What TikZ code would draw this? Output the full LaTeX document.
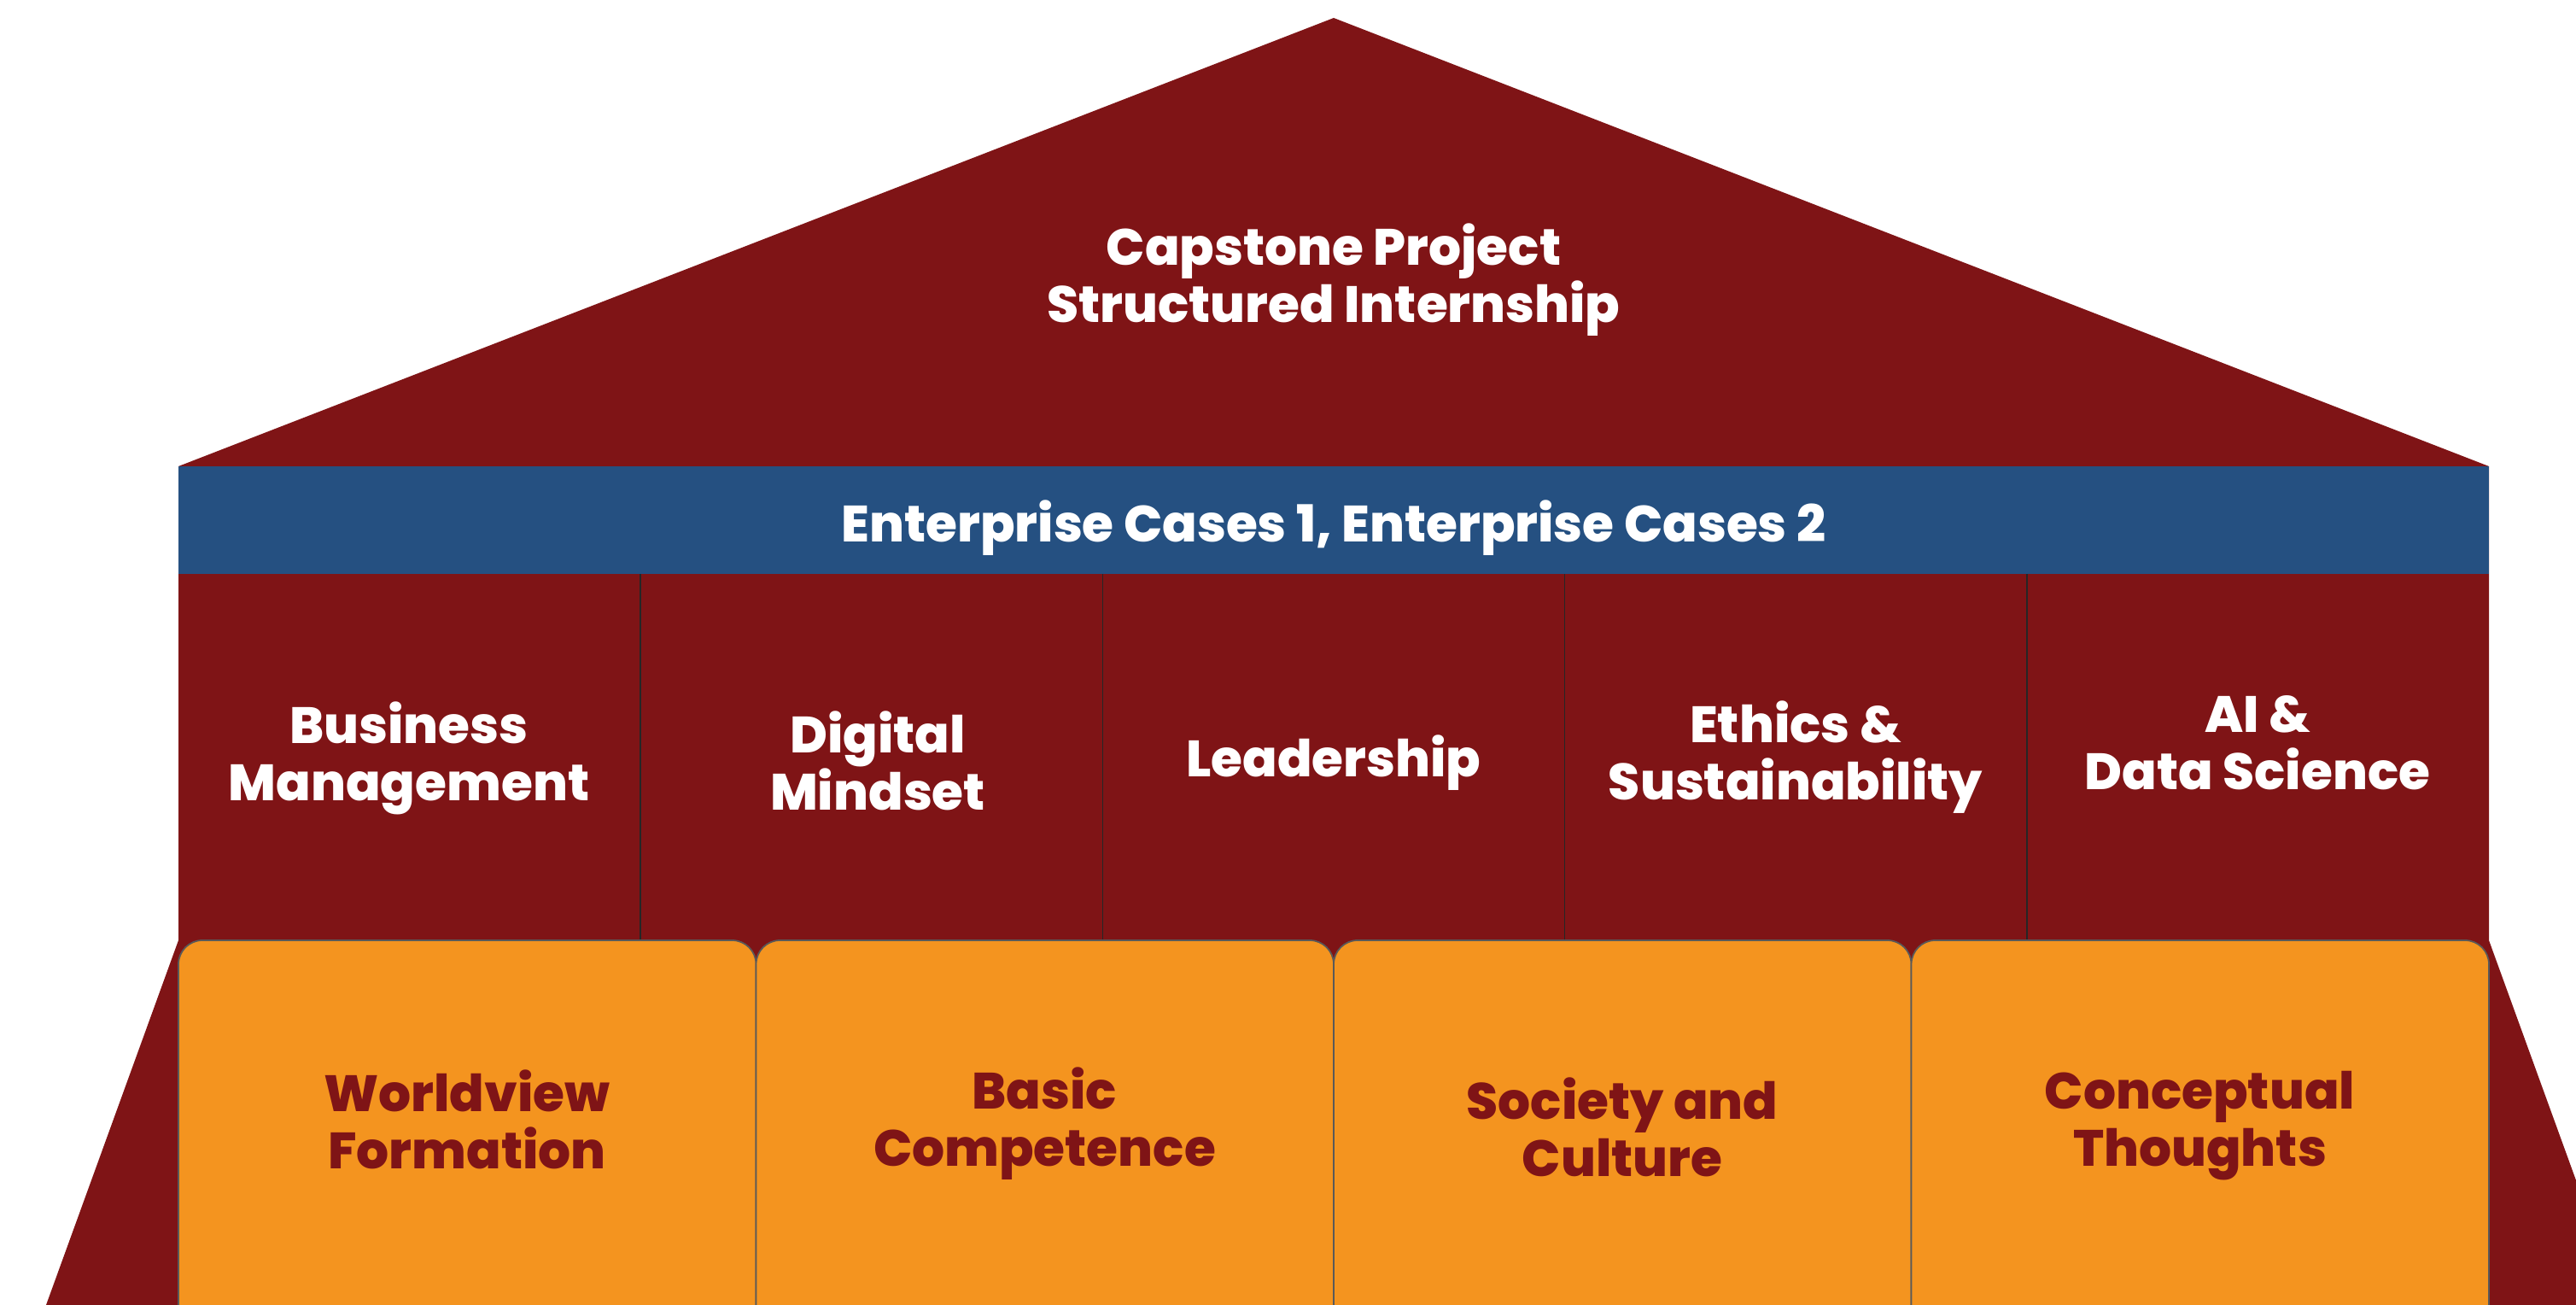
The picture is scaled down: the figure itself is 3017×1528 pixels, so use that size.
\documentclass[tikz,border=0pt]{standalone}
\usepackage{fontspec}
\setmainfont{Poppins}[BoldFont={* ExtraBold}]
\definecolor{roofred}{RGB}{127,20,22}
\definecolor{bandblue}{RGB}{37,80,129}
\definecolor{baseorange}{RGB}{244,148,31}

\begin{document}
\begin{tikzpicture}[x=0.01cm, y=-0.01cm,
  housetxt/.style={font=\bfseries\fontsize{17}{19}\selectfont, align=center, text=white},
  basetxt/.style={housetxt, text=roofred},
  divider/.style={draw=black!85, line width=0.5pt},
  basebox/.style={fill=baseorange, draw=black!65, line width=0.5pt, rounded corners=2.8mm}
]
  \useasboundingbox (0,0) rectangle (3017,1528);
  \clip (0,0) rectangle (3017,1528);

  % house: roof, walls and feet in one piece
  \fill[roofred] (54,1528) -- (209,1101) -- (209,546) -- (1562,21) -- (2915,546)
    -- (2915,1101) -- (3070,1528) -- cycle;

  % blue band under the roof
  \fill[bandblue] (209,546) rectangle (2915,672);

  \node[housetxt] (roof) at (1562,328) {Capstone Project\\Structured Internship};
  \node[housetxt] (band) at (1562,618) {Enterprise Cases 1, Enterprise Cases 2};

  % pillars
  \foreach \i in {1,...,4} {
    \draw[divider] ({209+541.2*\i},672) -- ({209+541.2*\i},1101);
  }
  \foreach \i/\xx/\yy/\txt in {0/479/888/{Business\\Management}, 1/1028/891/{Digital\\Mindset},
      2/1562/893/{Leadership}, 3/2103/887/{Ethics \&\\Sustainability}, 4/2644/870/{AI \&\\Data Science}} {
    \node[housetxt] (col\i) at (\xx,\yy) {\txt};
  }

  % foundation boxes
  \foreach \i/\yy/\txt in {0/1311/{Worldview\\Formation}, 1/1316/{Basic\\Competence},
      2/1320/{Society and\\Culture}, 3/1318/{Conceptual\\Thoughts}} {
    \draw[basebox] ({209+676.5*\i},1560) |- ({209+676.5*(\i+1)},1101) -- ({209+676.5*(\i+1)},1560);
    \node[basetxt] (base\i) at ({547+676.5*\i},\yy) {\txt};
  }
\end{tikzpicture}
\end{document}
